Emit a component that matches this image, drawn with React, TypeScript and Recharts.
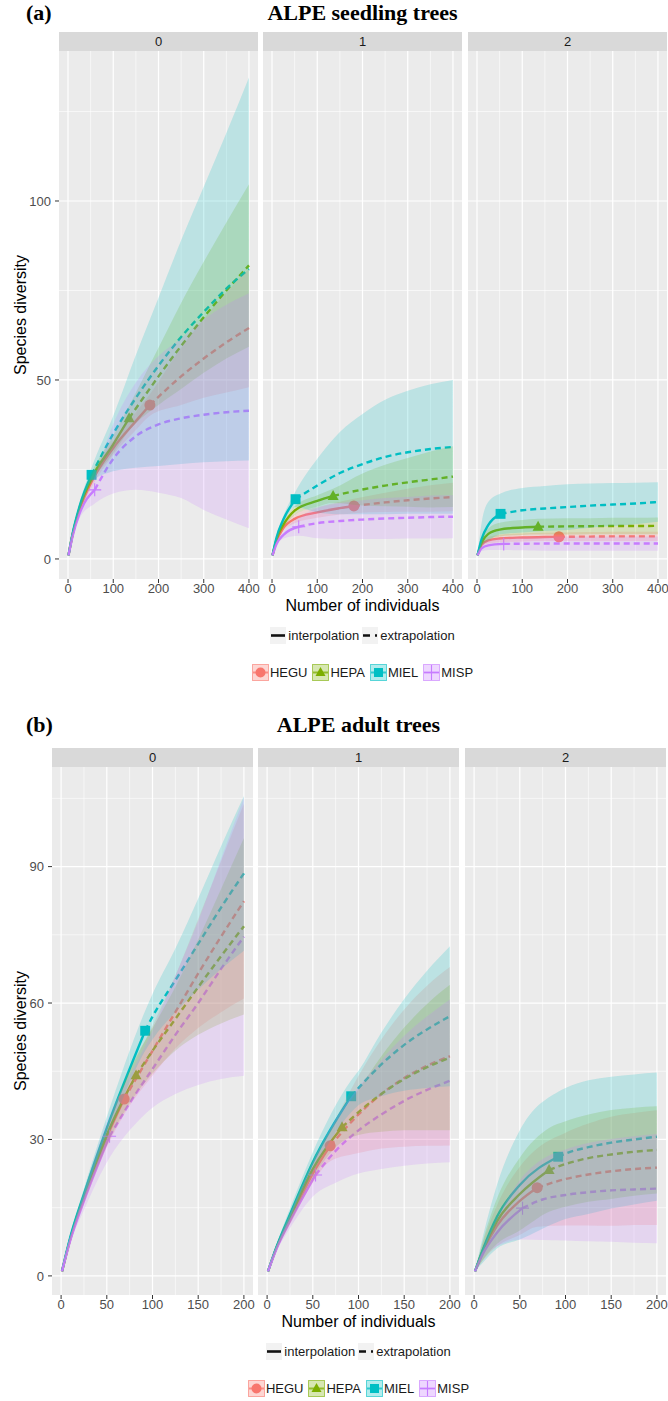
import React from "react";
import { ComposedChart, Line, Area, Scatter, XAxis, YAxis, CartesianGrid } from "recharts";

const species = ["HEGU", "HEPA", "MIEL", "MISP"];
const colors = ["#F8766D", "#7CAE00", "#00BFC4", "#C77CFF"];
const markers = ["circle", "triangle", "square", "plus"];
const orders = ["0", "1", "2"];

// (a) seedling trees: sample sizes for each species (observed size at seedObs index)
const seedX = [
  [1, 10, 25, 50, 100, 150, 181, 250, 300, 350, 400],
  [1, 10, 25, 50, 100, 135, 200, 250, 300, 350, 400],
  [1, 10, 25, 52, 100, 150, 200, 250, 300, 350, 400],
  [1, 10, 25, 59, 100, 150, 200, 250, 300, 350, 400],
];
const seedObs = [6, 5, 3, 3];

const seedEst0 = [
  [1, 6.7, 13.5, 21, 31, 38.5, 43, 51, 56, 60.5, 64.5],
  [1, 6.8, 14, 22, 32, 39.3, 51, 59.5, 67.5, 75, 82],
  [1, 7, 14.5, 23.5, 35, 45, 54, 62, 69, 75.5, 81],
  [1, 6.3, 12.5, 19.3, 28, 34.3, 37.6, 39.3, 40.3, 41, 41.4],
];
const seedLo0 = [
  [1, 6.2, 12.5, 19.5, 29, 36, 40, 43, 45, 46.5, 48],
  [1, 6.3, 13, 20.5, 29.5, 35.8, 43, 47.5, 52, 56, 59.3],
  [1, 6.5, 13.5, 21.5, 24.5, 25.5, 26, 26.5, 27, 27.3, 27.5],
  [1, 5.8, 11.3, 15.5, 18.3, 19.3, 18.5, 17, 13.7, 11, 8.6],
];
const seedHi0 = [
  [1, 7.2, 14.5, 22.5, 33, 41, 46, 59, 67, 74.5, 81],
  [1, 7.3, 15, 23.5, 34.5, 42.8, 59, 71.5, 83, 94, 104.7],
  [1, 7.5, 15.5, 25.5, 40, 57, 73, 89, 104, 119, 134.5],
  [1, 6.8, 13.7, 23, 37.7, 49.3, 56.7, 61.6, 66.9, 71, 74.2],
];

const seedEst1 = [
  [1, 5, 8.6, 11.2, 13, 14.2, 14.8, 15.8, 16.4, 16.9, 17.3],
  [1, 5.5, 9.5, 13.5, 16.2, 17.6, 19.4, 20.5, 21.4, 22.2, 23],
  [1, 6, 11, 16.7, 20.5, 24, 26.5, 28.5, 29.8, 30.7, 31.3],
  [1, 4.2, 6.7, 9, 10, 10.6, 11, 11.3, 11.5, 11.7, 11.8],
];
const seedLo1 = [
  [1, 4.5, 7.8, 10, 11.5, 12.4, 12.8, 13.1, 13.2, 13.2, 13.3],
  [1, 5.1, 8.7, 12.3, 14.6, 15.6, 14.9, 14.7, 14.6, 14.4, 14.5],
  [1, 5.5, 10, 14.5, 13, 12.5, 12.5, 12.5, 12.6, 12.6, 12.6],
  [1, 3.7, 5.7, 6.5, 5.8, 5.6, 5.6, 5.6, 5.7, 5.7, 5.8],
];
const seedHi1 = [
  [1, 5.5, 9.4, 12.4, 14.5, 16, 16.8, 18.5, 19.6, 20.6, 21.3],
  [1, 5.9, 10.3, 14.7, 17.8, 19.6, 23.9, 26.3, 28.2, 30, 31.5],
  [1, 6.5, 12, 18.9, 28, 35.5, 40.5, 44.5, 47, 48.8, 50],
  [1, 4.7, 7.7, 11.5, 14.2, 15.6, 16.4, 17, 17.3, 17.7, 17.8],
];

const seedEst2 = [
  [1, 4, 5.2, 5.7, 6, 6.15, 6.2, 6.25, 6.3, 6.3, 6.3],
  [1, 4.5, 7, 8.2, 8.8, 9, 9.1, 9.15, 9.2, 9.2, 9.25],
  [1, 5.5, 9.5, 12.6, 13.6, 14.1, 14.5, 14.9, 15.2, 15.5, 15.9],
  [1, 3, 3.8, 4.2, 4.25, 4.3, 4.3, 4.3, 4.3, 4.3, 4.3],
];
const seedLo2 = [
  [1, 3.3, 4.3, 4.7, 4.9, 5, 5, 5, 5, 5, 5],
  [1, 3.5, 5.5, 6.3, 6.7, 6.8, 6.8, 6.9, 6.9, 6.9, 6.9],
  [1, 3.5, 5, 6.9, 7.4, 7.8, 8.1, 8.7, 9.2, 9.7, 10.4],
  [1, 2.2, 2.5, 2.5, 2.4, 2.3, 2.3, 2.3, 2.3, 2.3, 2.3],
];
const seedHi2 = [
  [1, 4.7, 6.1, 6.7, 7.1, 7.3, 7.4, 7.5, 7.6, 7.6, 7.6],
  [1, 5.5, 8.5, 10.1, 10.9, 11.2, 11.4, 11.4, 11.5, 11.5, 11.6],
  [1, 10, 16, 18.3, 19.8, 20.4, 20.9, 21.1, 21.2, 21.3, 21.4],
  [1, 3.8, 5.1, 5.9, 6.1, 6.3, 6.3, 6.3, 6.3, 6.3, 6.3],
];

// (b) adult trees
const adultX = [
  [1, 10, 25, 50, 69, 100, 125, 150, 175, 200],
  [1, 10, 25, 50, 82, 100, 125, 150, 175, 200],
  [1, 10, 25, 50, 92, 100, 125, 150, 175, 200],
  [1, 10, 25, 53, 75, 100, 125, 150, 175, 200],
];
const adultObs = [4, 4, 4, 3];

const adultEst0 = [
  [1, 8, 17, 30.5, 38.9, 49.5, 58, 66.5, 74.6, 82.4],
  [1, 8.2, 17.5, 31, 44.1, 49.5, 56.5, 63.5, 70.3, 76.9],
  [1, 8.5, 18, 32.5, 53.9, 57, 65, 73, 81, 88.5],
  [1, 7.8, 16.5, 30.7, 38, 45.5, 53, 60, 67.5, 74.6],
];
const adultLo0 = [
  [1, 7.5, 15.8, 28.3, 35.5, 44, 50, 54.5, 58, 61],
  [1, 7.7, 16.3, 28.8, 40, 44.5, 49.5, 53, 55.5, 57.5],
  [1, 8, 16.8, 30, 49.5, 52, 58, 63, 67.5, 71.5],
  [1, 7.2, 14.5, 26, 32, 37, 40, 42, 43.3, 44],
];
const adultHi0 = [
  [1, 8.5, 18.2, 32.7, 42.3, 55, 66, 78.5, 91.2, 103.8],
  [1, 8.7, 18.7, 33.2, 48.2, 54.5, 63.5, 74, 85.1, 96.3],
  [1, 9, 19.2, 35, 58.3, 62, 72, 83, 94.5, 105.5],
  [1, 8.4, 18.5, 35.4, 44, 54, 66, 78, 91.7, 105.2],
];

const adultEst1 = [
  [1, 6, 12.5, 22.5, 28.6, 35.5, 40, 43.5, 46.2, 48.3],
  [1, 6.1, 12.8, 23.5, 32.7, 36, 40, 43.3, 45.9, 48],
  [1, 6.2, 13.5, 25, 39.5, 41.3, 46.5, 50.8, 54.2, 57.1],
  [1, 5.8, 12, 22.2, 27.5, 32, 35.5, 38.5, 40.9, 42.9],
];
const adultLo1 = [
  [1, 5.5, 11.3, 20.5, 25.2, 27, 28, 28.4, 28.6, 28.7],
  [1, 5.6, 11.6, 21.5, 29.5, 31, 31.7, 32, 32, 32],
  [1, 5.7, 12.2, 22.8, 36, 37.5, 39.5, 40.7, 41.3, 41.7],
  [1, 5.3, 10.5, 18, 20.5, 22.5, 23.5, 24.2, 24.7, 25],
];
const adultHi1 = [
  [1, 6.5, 13.7, 24.5, 32, 44, 52, 58.6, 63.8, 67.9],
  [1, 6.6, 14, 25.5, 35.9, 41, 48.3, 54.6, 59.8, 64],
  [1, 6.7, 14.8, 27.2, 43, 45.1, 53.5, 60.9, 67.1, 72.5],
  [1, 6.3, 13.5, 26.4, 34.5, 41.5, 47.5, 52.8, 57.1, 60.8],
];

const adultEst2 = [
  [1, 5.5, 11, 16.5, 19.4, 21.3, 22.3, 23, 23.5, 23.8],
  [1, 5.8, 12, 18, 23.3, 24.6, 25.9, 26.7, 27.3, 27.7],
  [1, 6, 13, 20, 26.2, 26.9, 28.3, 29.3, 30, 30.6],
  [1, 5, 9.5, 14.9, 16.8, 17.8, 18.4, 18.8, 19, 19.2],
];
const adultLo2 = [
  [1, 3.5, 6.5, 9, 10.8, 11.1, 11.1, 11, 11.2, 11.2],
  [1, 3.6, 7, 10, 14.1, 15.2, 16.3, 16.9, 17.6, 18.1],
  [1, 3, 6, 8, 11.9, 12.5, 13.6, 14.8, 15.7, 16.5],
  [1, 4, 6.5, 8, 7.9, 7.8, 7.6, 7.5, 7.3, 7.2],
];
const adultHi2 = [
  [1, 7.5, 15.5, 24, 28, 31.5, 33.5, 35, 35.8, 36.4],
  [1, 8, 17, 26, 32.5, 34, 35.5, 36.5, 37, 37.3],
  [1, 9, 20, 32, 40.5, 41.3, 43, 43.8, 44.3, 44.7],
  [1, 6, 12.5, 21.8, 25.7, 27.8, 29.2, 30.1, 30.7, 31.2],
];

const SANS = "'Liberation Sans', Arial, Helvetica, sans-serif";
const SERIF = "'Liberation Serif', 'Times New Roman', serif";
const PLOT_H = 528;
const AXIS_H = 24;

const panels = [
  {
    tag: "(a)",
    title: "ALPE seedling trees",
    top: 0,
    titleY: 20,
    xs: seedX,
    obs: seedObs,
    est: [seedEst0, seedEst1, seedEst2],
    lo: [seedLo0, seedLo1, seedLo2],
    hi: [seedHi0, seedHi1, seedHi2],
    xDomain: [-19.95, 419.95],
    xTicks: [0, 100, 200, 300, 400],
    xMinor: [50, 150, 250, 350],
    yDomain: [-5.6, 141.9],
    yTicks: [0, 50, 100],
    yMinor: [25, 75, 125],
    left: [59, 263, 468],
    w: 199,
    axisW: 59,
  },
  {
    tag: "(b)",
    title: "ALPE adult trees",
    top: 716,
    titleY: 732,
    xs: adultX,
    obs: adultObs,
    est: [adultEst0, adultEst1, adultEst2],
    lo: [adultLo0, adultLo1, adultLo2],
    hi: [adultHi0, adultHi1, adultHi2],
    xDomain: [-9.95, 209.95],
    xTicks: [0, 50, 100, 150, 200],
    xMinor: [25, 75, 125, 175],
    yDomain: [-4.2, 111.9],
    yTicks: [0, 30, 60, 90],
    yMinor: [15, 45, 75, 105],
    left: [52, 258, 465],
    w: 201,
    axisW: 52,
  },
];

type Panel = (typeof panels)[number];

const Marker = ({ kind, cx, cy, color, s }: any) => {
  if (cx == null || cy == null) return null;
  if (kind === "circle") return <circle cx={cx} cy={cy} r={s * 0.5} fill={color} />;
  if (kind === "triangle") {
    const h = s * 0.9;
    return (
      <polygon
        points={`${cx},${cy - h * 0.6} ${cx - s / 2},${cy + h * 0.4} ${cx + s / 2},${cy + h * 0.4}`}
        fill={color}
      />
    );
  }
  if (kind === "square")
    return <rect x={cx - s * 0.45} y={cy - s * 0.45} width={s * 0.9} height={s * 0.9} fill={color} />;
  return (
    <path
      d={`M${cx - s / 2},${cy}H${cx + s / 2}M${cx},${cy - s / 2}V${cy + s / 2}`}
      stroke={color}
      strokeWidth={1.1}
      fill="none"
    />
  );
};

const Facet = ({ p, f }: { p: Panel; f: number }) => {
  const first = f === 0;
  const left = p.left[f] - (first ? p.axisW : 0);
  const width = p.w + (first ? p.axisW : 0);
  const series = species.map((sp, i) => {
    const rows = p.xs[i].map((x, j) => ({
      x,
      y: p.est[f][i][j],
      band: [p.lo[f][i][j], p.hi[f][i][j]],
    }));
    const k = p.obs[i];
    return { sp, i, rows, interp: rows.slice(0, k + 1), extrap: rows.slice(k), point: [rows[k]] };
  });
  const tickStyle = { fontSize: 13, fill: "#4D4D4D", fontFamily: SANS };
  return (
    <div style={{ position: "absolute", left, top: p.top + 51 }}>
      <ComposedChart width={width} height={PLOT_H + AXIS_H} margin={{ top: 0, right: 0, bottom: 0, left: 0 }}>
        <CartesianGrid
          fill="#EBEBEB"
          stroke="#FFFFFF"
          strokeWidth={0.6}
          horizontalValues={p.yMinor}
          verticalValues={p.xMinor}
        />
        <CartesianGrid stroke="#FFFFFF" strokeWidth={1.2} horizontalValues={p.yTicks} verticalValues={p.xTicks} />
        <XAxis
          type="number"
          dataKey="x"
          domain={p.xDomain}
          allowDataOverflow
          ticks={p.xTicks}
          interval={0}
          height={AXIS_H}
          tick={tickStyle}
          tickLine={{ stroke: "#333333" }}
          tickSize={4}
          tickMargin={1}
          axisLine={false}
        />
        <YAxis
          type="number"
          domain={p.yDomain}
          allowDataOverflow
          ticks={p.yTicks}
          interval={0}
          width={first ? p.axisW : 0}
          hide={!first}
          tick={tickStyle}
          tickLine={{ stroke: "#333333" }}
          tickSize={4}
          tickMargin={4}
          axisLine={false}
        />
        {series.map((s) => (
          <Line
            key={s.sp + "-int"}
            data={s.interp}
            dataKey="y"
            type="monotone"
            stroke={colors[s.i]}
            strokeWidth={2.4}
            dot={false}
            activeDot={false}
            isAnimationActive={false}
          />
        ))}
        {series.map((s) => (
          <Line
            key={s.sp + "-ext"}
            data={s.extrap}
            dataKey="y"
            type="monotone"
            stroke={colors[s.i]}
            strokeWidth={2.4}
            strokeDasharray="6 4"
            dot={false}
            activeDot={false}
            isAnimationActive={false}
          />
        ))}
        {series.map((s) => (
          <Scatter
            key={s.sp + "-obs"}
            data={s.point}
            dataKey="y"
            isAnimationActive={false}
            shape={(props: any) => (
              <Marker kind={markers[s.i]} cx={props.cx} cy={props.cy} color={colors[s.i]} s={s.i === 3 ? 13 : 11} />
            )}
          />
        ))}
        {series.map((s) => (
          <Area
            key={s.sp + "-ci"}
            data={s.rows}
            dataKey="band"
            type="monotone"
            stroke="none"
            fill={colors[s.i]}
            fillOpacity={0.2}
            dot={false}
            activeDot={false}
            isAnimationActive={false}
            zIndex={700}
          />
        ))}
      </ComposedChart>
    </div>
  );
};

const Legends = ({ p }: { p: Panel }) => {
  const cx = p.left[1] + p.w / 2;
  const row = (y: number, children: React.ReactNode) => (
    <div
      style={{
        position: "absolute",
        left: cx - 200,
        width: 400,
        top: p.top + y - 9,
        height: 18,
        display: "flex",
        justifyContent: "center",
        alignItems: "center",
        fontFamily: SANS,
        fontSize: 13,
        color: "#1A1A1A",
        whiteSpace: "nowrap",
      }}
    >
      {children}
    </div>
  );
  return (
    <>
      {row(
        635,
        <>
          <svg width={16} height={17}>
            <rect width={16} height={17} fill="#F2F2F2" />
            <line x1={1} x2={15} y1={8.5} y2={8.5} stroke="#111" strokeWidth={2.6} />
          </svg>
          <span style={{ margin: "0 3px 0 2px" }}>interpolation</span>
          <svg width={16} height={17}>
            <rect width={16} height={17} fill="#F2F2F2" />
            <line x1={1} x2={15} y1={8.5} y2={8.5} stroke="#111" strokeWidth={2.6} strokeDasharray="7 5" />
          </svg>
          <span style={{ marginLeft: 2 }}>extrapolation</span>
        </>
      )}
      {row(
        672,
        <>
          {species.map((sp, i) => (
            <React.Fragment key={sp}>
              <svg width={17} height={17}>
                <rect
                  x={0.5}
                  y={0.5}
                  width={16}
                  height={16}
                  fill={colors[i]}
                  fillOpacity={0.3}
                  stroke={colors[i]}
                  strokeOpacity={0.6}
                />
                <line x1={1} x2={16} y1={8.5} y2={8.5} stroke={colors[i]} strokeWidth={2} strokeOpacity={0.75} />
                <Marker kind={markers[i]} cx={8.5} cy={8.5} color={colors[i]} s={i === 3 ? 15 : 10} />
              </svg>
              <span style={{ margin: i < 3 ? "0 5px 0 1px" : "0 0 0 1px" }}>{sp}</span>
            </React.Fragment>
          ))}
        </>
      )}
    </>
  );
};

export default function App() {
  return (
    <div
      style={{
        position: "absolute",
        left: 0,
        top: 0,
        width: 668,
        height: 1401,
        background: "#FFFFFF",
        overflow: "hidden",
      }}
    >
      <style>{`.recharts-surface{overflow:visible}`}</style>
      <svg width={668} height={1401} style={{ position: "absolute", left: 0, top: 0 }}>
        {panels.map((p) => (
          <g key={p.tag}>
            <text x={26} y={p.titleY} fontFamily={SERIF} fontWeight="bold" fontSize={22} fill="#000">
              {p.tag}
            </text>
            <text
              x={p.left[1] + p.w / 2}
              y={p.titleY}
              textAnchor="middle"
              fontFamily={SERIF}
              fontWeight="bold"
              fontSize={22}
              fill="#000"
            >
              {p.title}
            </text>
            {orders.map((o, f) => (
              <g key={o}>
                <rect x={p.left[f]} y={p.top + 32} width={p.w} height={19} fill="#D9D9D9" />
                <text
                  x={p.left[f] + p.w / 2}
                  y={p.top + 41.5}
                  textAnchor="middle"
                  dominantBaseline="central"
                  fontFamily={SANS}
                  fontSize={13}
                  fill="#1A1A1A"
                >
                  {o}
                </text>
              </g>
            ))}
            <text
              transform={`translate(20 ${p.top + 315}) rotate(-90)`}
              textAnchor="middle"
              dominantBaseline="central"
              fontFamily={SANS}
              fontSize={16}
              fill="#000"
            >
              Species diversity
            </text>
            <text
              x={p.left[1] + p.w / 2}
              y={p.top + 605}
              textAnchor="middle"
              dominantBaseline="central"
              fontFamily={SANS}
              fontSize={16}
              fill="#000"
            >
              Number of individuals
            </text>
          </g>
        ))}
      </svg>
      {panels.map((p) => (
        <React.Fragment key={p.tag}>
          {orders.map((o, f) => (
            <Facet key={o} p={p} f={f} />
          ))}
          <Legends p={p} />
        </React.Fragment>
      ))}
    </div>
  );
}
